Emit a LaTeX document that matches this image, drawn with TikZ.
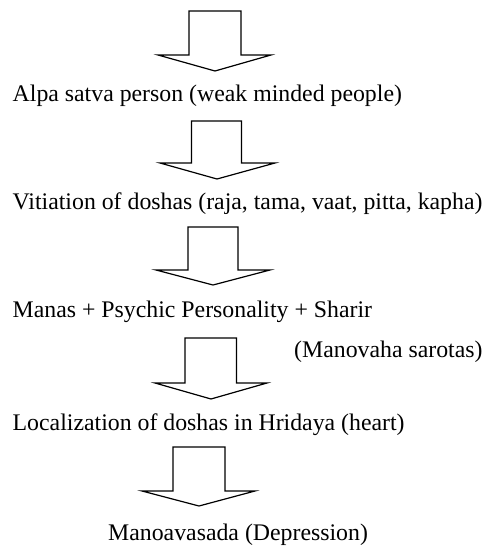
\documentclass[tikz,border=0pt]{standalone}
\usepackage{fontspec}
\setmainfont{Liberation Serif}
\begin{document}
\begin{tikzpicture}[x=1pt,y=-1pt,
  blockarrow/.style={draw=black, line width=1.2pt, fill=white, line join=miter},
  label/.style={inner sep=0pt, anchor=base west, font=\fontsize{23.8}{28}\selectfont}]
\useasboundingbox (0,0) rectangle (489,546);
% arrows
\draw[blockarrow] (189,11) -- (241,11) -- (241,55) -- (271,55) -- (215,71) -- (158,55) -- (189,55) -- cycle;
\draw[blockarrow] (191.5,121) -- (241.5,121) -- (241.5,163) -- (275,163) -- (217,179) -- (160,163) -- (191.5,163) -- cycle;
\draw[blockarrow] (188,227) -- (238,227) -- (238,270) -- (270,270) -- (213,285) -- (156,270) -- (188,270) -- cycle;
\draw[blockarrow] (185,338) -- (236.5,338) -- (236.5,383) -- (267,383) -- (211,399) -- (155,383) -- (185,383) -- cycle;
\draw[blockarrow] (173,447) -- (225,447) -- (225,491) -- (255,491) -- (199,506) -- (142,491) -- (173,491) -- cycle;
% texts
\node[label] (t1) at (12.5,101) {Alpa satva person (weak minded people)};
\node[label] (t2) at (12.5,209) {Vitiation of doshas (raja, tama, vaat, pitta, kapha)};
\node[label] (t3) at (12.5,317) {Manas + Psychic Personality + Sharir};
\node[label] (t4) at (294,357) {(Manovaha sarotas)};
\node[label] (t5) at (12.5,430) {Localization of doshas in Hridaya (heart)};
\node[label] (t6) at (108,540) {Manoavasada (Depression)};
\end{tikzpicture}
\end{document}
